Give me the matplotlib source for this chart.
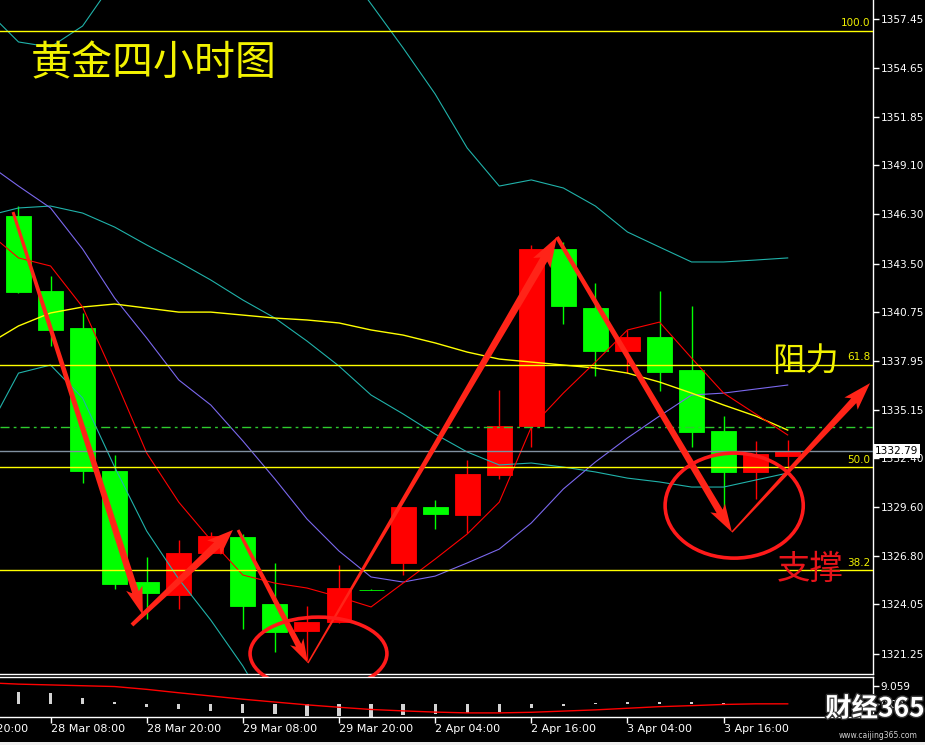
import numpy as np
import matplotlib.pyplot as plt
from matplotlib.patches import Polygon, Ellipse, Rectangle
import matplotlib.patheffects as pe
import matplotlib.transforms as mtrans

plt.rcParams['font.family'] = ['DejaVu Sans']
plt.rcParams['lines.scale_dashes'] = False
cjk = ['Noto Sans CJK SC', 'DejaVu Sans']

# 4H gold candles, index 0 = 28 Mar 04:00
opens  = [1346.21, 1341.93, 1339.82, 1331.67, 1325.33, 1324.59, 1326.99, 1327.90, 1324.08, 1322.54,
          1323.05, 1324.90, 1326.42, 1329.61, 1329.16, 1331.44, 1334.23, 1344.33, 1340.96, 1338.51,
          1339.31, 1337.43, 1333.95, 1331.61, 1332.52]
highs  = [1346.78, 1342.79, 1340.68, 1332.58, 1326.76, 1327.73, 1328.19, 1328.07, 1326.42, 1323.96,
          1326.30, 1324.92, 1329.61, 1330.01, 1332.29, 1336.29, 1344.56, 1344.73, 1342.39, 1339.71,
          1341.93, 1341.08, 1334.80, 1333.38, 1333.43]
lows   = [1341.82, 1338.80, 1330.98, 1324.93, 1323.22, 1323.79, 1326.99, 1322.65, 1321.34, 1320.88,
          1323.00, 1324.86, 1325.73, 1328.36, 1328.13, 1331.21, 1333.04, 1340.05, 1337.09, 1337.26,
          1336.23, 1333.04, 1329.56, 1330.07, 1331.84]
closes = [1341.88, 1339.71, 1331.67, 1325.22, 1324.71, 1326.99, 1327.96, 1323.96, 1322.48, 1323.05,
          1324.99, 1324.88, 1329.61, 1329.21, 1331.50, 1334.23, 1344.33, 1341.08, 1338.51, 1339.31,
          1337.31, 1333.89, 1331.61, 1332.64, 1332.79]

# indicator lines, index -1 .. 24
ma_idx = list(range(-1, 25))
ma_fast = [1345.36, 1343.82, 1343.36, 1341.02, 1336.97, 1332.69, 1329.89, 1327.73, 1325.73, 1325.27,
           1324.99, 1324.48, 1323.91, 1325.27, 1326.64, 1328.07, 1329.89, 1334.17, 1336.11, 1337.88,
           1339.71, 1340.16, 1338.11, 1336.11, 1334.92, 1333.72]
ma_mid = [1349.23, 1347.92, 1346.67, 1344.33, 1341.53, 1339.25, 1336.86, 1335.43, 1333.38, 1331.21,
          1328.93, 1327.10, 1325.62, 1325.33, 1325.67, 1326.42, 1327.21, 1328.70, 1330.64, 1332.18,
          1333.55, 1334.80, 1336.00, 1336.11, 1336.34, 1336.57]
ma_slow = [1338.85, 1339.94, 1340.68, 1341.02, 1341.19, 1340.96, 1340.73, 1340.73, 1340.56, 1340.39,
           1340.28, 1340.11, 1339.71, 1339.42, 1338.97, 1338.45, 1338.05, 1337.88, 1337.71, 1337.54,
           1337.25, 1336.74, 1336.11, 1335.43, 1334.80, 1334.00]
band_hi = [1357.96, 1356.14, 1355.85, 1357.05, 1359.68, 1362.53, 1364.81, 1366.24, 1367.09, 1367.09,
           1365.95, 1360.82, 1358.31, 1355.80, 1353.17, 1350.09, 1347.92, 1348.27, 1347.81, 1346.78,
           1345.30, 1344.44, 1343.59, 1343.59, 1343.70, 1343.82]
band_mid = [1346.21, 1346.67, 1346.78, 1346.38, 1345.58, 1344.56, 1343.59, 1342.56, 1341.42, 1340.39,
            1339.08, 1337.65, 1336.00, 1334.92, 1333.77, 1332.75, 1332.01, 1332.12, 1331.89, 1331.61,
            1331.26, 1331.04, 1330.75, 1330.75, 1331.15, 1331.55]
band_lo_idx = list(range(-1, 9))
band_lo = [1333.83, 1337.25, 1337.71, 1335.83, 1331.89, 1328.24, 1325.50, 1323.16, 1320.54, 1317.46]

# lower oscillator window
osc_idx = list(range(0, 23))
osc_hist = [6.0, 5.5, 3.0, 1.0, -1.5, -2.5, -3.5, -4.5, -5.0, -6.0, -6.0, -6.5, -5.5, -5.0, -4.5,
            -4.0, -2.0, -1.0, 0.5, 1.0, 1.0, 1.0, 0.5]
osc_signal = [10.5, 9.8, 9.4, 9.0, 8.6, 7.2, 5.5, 3.9, 2.3, 0.9, -0.5, -1.7, -2.8, -3.5, -4.1, -4.5,
              -4.5, -4.2, -3.6, -3.0, -2.2, -1.4, -0.9, -0.3, 0.0, 0.0]

fib_levels = [1356.79, 1337.74, 1331.88, 1326.02]
fib_labels = ['100.0', '61.8', '50.0', '38.2']
dashdot_level = 1334.19
last_price = 1332.79

price_ticks = [1357.45, 1354.65, 1351.85, 1349.10, 1346.30, 1343.50, 1340.75, 1337.95, 1335.15,
               1332.40, 1329.60, 1326.80, 1324.05, 1321.25]
time_idx = [-2, 1, 4, 7, 10, 13, 16, 19, 22]
time_labels = ['27 Mar 20:00', '28 Mar 08:00', '28 Mar 20:00', '29 Mar 08:00', '29 Mar 20:00',
               '2 Apr 04:00', '2 Apr 16:00', '3 Apr 04:00', '3 Apr 16:00']

# hand-drawn annotations (candle index, price)
arrow_from = [(-0.17, 1346.44), (3.54, 1322.88), (6.85, 1328.30), (9.03, 1320.71), (16.80, 1345.01), (22.26, 1328.18)]
arrow_to = [(3.88, 1323.45), (6.69, 1328.30), (9.03, 1320.71), (16.80, 1345.01), (22.26, 1328.18), (26.57, 1336.68)]
arrow_px = [(3, 7, 17, 24), (4, 8, 20, 22), (3, 6, 15, 20), (1.5, 8, 20, 26), (4, 7, 17, 24), (1.5, 7, 18, 24)]
ellipse_c = [(9.36, 1321.25), (22.33, 1329.69)]
ellipse_wh = [(4.27, 4.16), (4.31, 5.99)]

W, H = 925, 745
fig = plt.figure(figsize=(W / 100, H / 100), dpi=100, facecolor='black')
ax = fig.add_axes([0, (H - 674) / H, 873 / W, 674 / H], facecolor='black')
vol = fig.add_axes([0, (H - 717) / H, 873 / W, 40.5 / H], facecolor='black')

xlim = (-18.5 / 32.05, (873 - 18.5) / 32.05)
for a in (ax, vol):
    a.set_xlim(*xlim)
    for s in ('left', 'top', 'right', 'bottom'):
        a.spines[s].set_color('white')
        a.spines[s].set_linewidth(1)
    a.spines['left'].set_visible(False)
ax.spines['top'].set_visible(False)
ax.set_ylim(1320.085, 1358.534)
vol.set_ylim(-6.54, 13.59)

# candles
bw = 0.78
for i in range(len(opens)):
    o, h, l, c = opens[i], highs[i], lows[i], closes[i]
    col = '#ff0000' if c >= o else '#00ff00'
    ax.vlines(i, l, h, color=col, lw=1, zorder=2)
    ax.bar(i, max(abs(c - o), 0.02), bottom=min(o, c), width=bw, color=col,
           edgecolor=col, lw=0.6, zorder=2)

# indicators
ax.plot(ma_idx, band_hi, color='#20b2aa', lw=0.8, zorder=3)
ax.plot(ma_idx, band_mid, color='#20b2aa', lw=0.8, zorder=3)
ax.plot(band_lo_idx, band_lo, color='#20b2aa', lw=0.8, zorder=3)
ax.plot(ma_idx, ma_mid, color='#7b68ee', lw=0.8, zorder=3)
ax.plot(ma_idx, ma_slow, color='#ffff00', lw=1.0, zorder=3)
ax.plot(ma_idx, ma_fast, color='#ff0000', lw=0.8, zorder=3)

for lv, lb in zip(fib_levels, fib_labels):
    ax.axhline(lv, color='#ffff00', lw=1, zorder=3)
    ax.text(0.997, lv + 0.12, lb, transform=ax.get_yaxis_transform(), ha='right', va='bottom',
            color='#f0f000', fontsize=7.5, zorder=4)
ax.axhline(dashdot_level, color='#2ecc2e', lw=1, ls=(0, (6.5, 3, 2, 3)), zorder=3)
ax.axhline(last_price, color='#8090a0', lw=1, zorder=3)

# price axis
ax.yaxis.tick_right()
ax.set_yticks(price_ticks)
ax.set_yticklabels([f'{t:.2f}' for t in price_ticks])
ax.tick_params(axis='y', colors='white', labelcolor='white', length=4, width=1, pad=1.5, labelsize=7.6)
ax.tick_params(axis='x', bottom=False, labelbottom=False)
ax.text(1.002, last_price, f'{last_price:.2f}', transform=ax.get_yaxis_transform(), ha='left', va='center',
        color='black', fontsize=7.6, zorder=20, clip_on=False,
        bbox=dict(facecolor='white', edgecolor='none', pad=1.4))

# annotations
def taper_arrow(p0, p1, w0, w1, hw, hl, color='#ff2418'):
    a = ax.transData.transform(p0)
    b = ax.transData.transform(p1)
    u = (b - a) / np.hypot(*(b - a))
    n = np.array([-u[1], u[0]])
    base = b - u * hl
    pts = [a + n * w0 / 2, base + n * w1 / 2, base - u * 4 + n * hw / 2, b,
           base - u * 4 - n * hw / 2, base - n * w1 / 2, a - n * w0 / 2]
    pts = ax.transData.inverted().transform(np.array(pts))
    ax.add_patch(Polygon(pts, closed=True, fc=color, ec='none', zorder=8, clip_on=False))

for p0, p1, (w0, w1, hw, hl) in zip(arrow_from, arrow_to, arrow_px):
    taper_arrow(p0, p1, w0, w1, hw, hl)

for (cx, cy), (ew, eh) in zip(ellipse_c, ellipse_wh):
    ax.add_patch(Ellipse((cx, cy), ew, eh, fill=False, ec='#ff1a1a', lw=2.6, zorder=9, clip_on=False))

ax.text(31 / 873, 1 - 64 / 674, '黄金四小时图', transform=ax.transAxes, ha='left', va='center',
        color='#f2f200', fontsize=29.5, family=cjk, zorder=10)
ax.text(805 / 873, 1 - 362 / 674, '阻力', transform=ax.transAxes, ha='center', va='center',
        color='#f2f200', fontsize=24, family=cjk, zorder=10)
ax.text(810 / 873, 1 - 569 / 674, '支撑', transform=ax.transAxes, ha='center', va='center',
        color='#e8141a', fontsize=24, family=cjk, zorder=10)

# oscillator window
vol.bar(osc_idx, osc_hist, width=0.1, color='#d3d3d3', zorder=2)
vol.plot(ma_idx, osc_signal, color='#ff0000', lw=1, zorder=3)
vol.yaxis.tick_right()
vol.set_yticks([9.059, 0.0])
vol.set_yticklabels(['9.059', '0.00'])
vol.tick_params(axis='y', colors='white', labelcolor='white', length=4, width=1, pad=1.5, labelsize=7.6)
vol.set_xticks(time_idx[1:])
vol.set_xticklabels([])
vol.tick_params(axis='x', colors='white', length=4, width=1)
tr = mtrans.blended_transform_factory(vol.transData, vol.transAxes)
for ti, tl in zip(time_idx, time_labels):
    vol.text(ti, -0.17, tl, transform=tr, ha='left', va='top', color='white',
             fontsize=8, clip_on=False)

# watermark and bottom strip
fig.text(875 / W, 1 - 709 / H, '财经365', ha='center', va='center', color='white', fontsize=19,
         fontweight='bold', family=cjk, zorder=30,
         path_effects=[pe.withStroke(linewidth=2, foreground='#333333')])
fig.text(878 / W, 1 - 735 / H, 'www.caijing365.com', ha='center', va='center', color='#d0d0d0',
         fontsize=5.5, zorder=30)
fig.patches.append(Rectangle((0, 0), 1, 3 / H, transform=fig.transFigure, fc='#f0f0f0', ec='none'))

fig.savefig('out.png', dpi=100, facecolor='black')
